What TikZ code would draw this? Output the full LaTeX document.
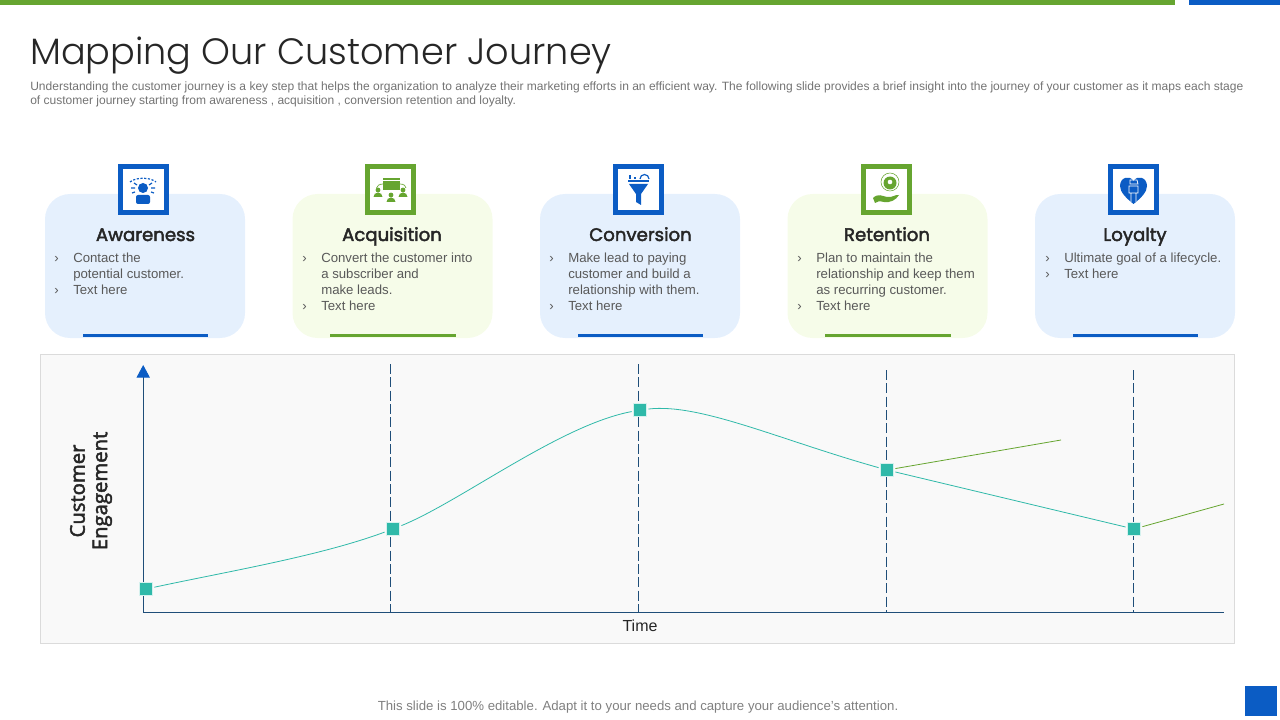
\documentclass[tikz,border=0pt]{standalone}
\usepackage{fontspec}
\setmainfont{Liberation Sans}
\newfontfamily\titlefont{Poppins Light}
\newfontfamily\headfont{Poppins}[FakeBold=2.4]
\newfontfamily\ylabelfont{Open Sans}[FakeBold=2.4]
\usepackage{xcolor}
\usetikzlibrary{arrows.meta}
\definecolor{slideblue}{HTML}{0B5CC4}
\definecolor{slidegreen}{HTML}{66A530}
\definecolor{cardblue}{HTML}{E5F0FD}
\definecolor{cardgreen}{HTML}{F6FCE9}
\definecolor{axisblue}{HTML}{1F4E79}
\definecolor{teal}{HTML}{2FB9A9}
\definecolor{panelgray}{HTML}{F9F9F9}
\tikzset{
	blockcard/.style={rounded corners=18.75pt, minimum width=150pt, minimum height=108pt, inner sep=0pt, outer sep=0pt},
	iconbox/.style={draw=#1, line width=3.75pt, fill=white, minimum size=34.5pt, inner sep=0pt, outer sep=0pt},
	footbar/.style={fill=#1, minimum width=94pt, minimum height=2.6pt, inner sep=0pt, outer sep=0pt},
	heading/.style={font=\headfont\fontsize{13.6}{17}\selectfont, text=black!85, inner sep=0pt, anchor=base},
	bodytext/.style={font=\fontsize{9.9}{12}\selectfont, text=black!65, align=left, anchor=north west, inner sep=0pt},
	tick/.style={font=\fontsize{9.9}{12}\selectfont, text=black!65, inner sep=0pt, anchor=base west},
	marker/.style={draw=white!80!teal, line width=.6pt, fill=teal, minimum size=9.6pt, inner sep=0pt, outer sep=1.5pt},
	guideline/.style={draw=axisblue, line width=.7pt, dash pattern=on 7.5pt off 2.5pt},
}
\begin{document}
\begin{tikzpicture}[x=.75pt, y=-.75pt]
	\useasboundingbox (0,0) rectangle (1280,720);
	% top bars and corner block
	\fill[slidegreen] (0,0) rectangle (1175,5);
	\fill[slideblue] (1189,0) rectangle (1280,5);
	\fill[slideblue] (1245,686) rectangle (1277,716);
	% title and intro
	\node[anchor=west, inner sep=0pt, text=black!85, font=\titlefont\fontsize{27.5}{32}\selectfont] (title) at (30,56) {Mapping Our Customer Journey};
	\node[anchor=north west, inner sep=0pt, align=left, text=black!55, font=\fontsize{9.02}{10.5}\selectfont] (intro) at (30,81.5) {Understanding the customer journey is a key step that helps the organization to analyze their marketing efforts in an efficient way. The following slide provides a brief insight into the journey of your customer as it maps each stage\\of customer journey starting from awareness , acquisition , conversion retention and loyalty.};
	% cards
	\node[blockcard, fill=cardblue] (card1) at (145,266) {};
	\node[blockcard, fill=cardgreen] (card2) at (392.5,266) {};
	\node[blockcard, fill=cardblue] (card3) at (640,266) {};
	\node[blockcard, fill=cardgreen] (card4) at (887.5,266) {};
	\node[blockcard, fill=cardblue] (card5) at (1135,266) {};
	\node[footbar=slideblue] (bar1) at (145.5,335.5) {};
	\node[footbar=slidegreen] (bar2) at (393,335.5) {};
	\node[footbar=slideblue] (bar3) at (640.5,335.5) {};
	\node[footbar=slidegreen] (bar4) at (888,335.5) {};
	\node[footbar=slideblue] (bar5) at (1135.5,335.5) {};
	\node[iconbox=slideblue] (box1) at (143.5,189.5) {};
	\node[iconbox=slidegreen] (box2) at (390.5,189.5) {};
	\node[iconbox=slideblue] (box3) at (638.5,189.5) {};
	\node[iconbox=slidegreen] (box4) at (886.5,189.5) {};
	\node[iconbox=slideblue] (box5) at (1133.5,189.5) {};
	% icon: person with rays
	\fill[slideblue] (143,188) circle (5);
	\fill[slideblue, rounded corners=1.5pt] (136,204) -- (136,195) -- (150,195) -- (150,204) -- cycle;
	\draw[slideblue, line width=.9pt, dash pattern=on 1.6pt off 1.2pt] (130,182) .. controls (136,177) and (150,177) .. (156,182);
	\draw[slideblue, line width=.9pt] (131,188) -- (135,188) (151,188) -- (155,188) (132,193) -- (135,192) (151,192) -- (154,193) (134,183) -- (137,185) (152,183) -- (149,185);
	% icon: screen with people
	\fill[slidegreen] (383,178) rectangle (400,190);
	\fill[white] (383,180.5) rectangle (400,181);
	\draw[slidegreen, line width=.5pt] (383,184) .. controls (379,184) and (377,186) .. (376.5,188) (400,184) .. controls (404,184) and (406,186) .. (406,188);
	\fill[slidegreen] (378,190) circle (2.4) (391,195) circle (2.4) (403,190) circle (2.4);
	\fill[slidegreen] (373.5,197) arc (180:360:4.5) -- cycle (386.5,202) arc (180:360:4.5) -- cycle (398.5,197) arc (180:360:4.5) -- cycle;
	% icon: funnel
	\fill[slideblue] (628,180) rectangle (649,182.5);
	\fill[slideblue] (629,184) -- (648,184) -- (641,194) -- (641,205) -- (636,202) -- (636,194) -- cycle;
	\draw[slideblue, line width=.8pt] (630,179) -- (630,175.5) (635,179) -- (635,177.5);
	\draw[slideblue, line width=.9pt] (640,179) arc (180:360:4.5);
	% icon: hand with coin
	\draw[slidegreen, line width=.4pt] (890,182) circle (9);
	\fill[slidegreen] (890,183) circle (6.5);
	\fill[white] (890,182) circle (2.3);
	\fill[slidegreen] (873,198) .. controls (878,193) and (882,196) .. (887,197) .. controls (892,198) and (896,194) .. (899,195) .. controls (896,200) and (890,203) .. (884,202) .. controls (880,201) and (877,201) .. (875,203) -- cycle;
	% icon: heart with figure
	\fill[slideblue] (1133.5,204) .. controls (1126,198) and (1120,192) .. (1120,186) .. controls (1120,177) and (1130,175) .. (1133.5,181) .. controls (1137,175) and (1147,177) .. (1147,186) .. controls (1147,192) and (1141,198) .. (1133.5,204) -- cycle;
	\draw[white, line width=.6pt] (1129,186) rectangle (1138,193) (1131,193) -- (1131,202) (1136,193) -- (1136,202) (1130,180) -- (1137,180) -- (1138,184) -- (1130,184) -- cycle;
	% headings
	\node[heading] (head1) at (145.5,241) {Awareness};
	\node[heading] (head2) at (392,241) {Acquisition};
	\node[heading] (head3) at (640.5,241) {Conversion};
	\node[heading] (head4) at (887,241) {Retention};
	\node[heading] (head5) at (1135,241) {Loyalty};
	% card texts
	\node[bodytext] (text1) at (73,252.5) {Contact the\\potential customer.\\Text here};
	\node[tick] (tick1a) at (54,262.5) {›};
	\node[tick] (tick1b) at (54,294.5) {›};
	\node[bodytext] (text2) at (321,252.5) {Convert the customer into\\a subscriber and\\make leads.\\Text here};
	\node[tick] (tick2a) at (302,262.5) {›};
	\node[tick] (tick2b) at (302,310.5) {›};
	\node[bodytext] (text3) at (568,252.5) {Make lead to paying\\customer and build a\\relationship with them.\\Text here};
	\node[tick] (tick3a) at (549,262.5) {›};
	\node[tick] (tick3b) at (549,310.5) {›};
	\node[bodytext] (text4) at (816,252.5) {Plan to maintain the\\relationship and keep them\\as recurring customer.\\Text here};
	\node[tick] (tick4a) at (797,262.5) {›};
	\node[tick] (tick4b) at (797,310.5) {›};
	\node[bodytext] (text5) at (1064,252.5) {Ultimate goal of a lifecycle.\\Text here};
	\node[tick] (tick5a) at (1045,262.5) {›};
	\node[tick] (tick5b) at (1045,278.5) {›};
	% chart panel
	\node[draw=black!14, fill=panelgray, line width=.75pt, minimum width=896pt, minimum height=216.5pt, inner sep=0pt, outer sep=0pt] (panel) at (637.5,498.7) {};
	% draw axes
	\coordinate (origin) at (143.2,612.5);
	\coordinate (ytop) at (143.2,365);
	\coordinate (xend) at (1224,612.5);
	\draw[axisblue, line width=.7pt] (origin) -- (xend);
	\draw[axisblue, line width=.7pt, -{Triangle[length=9.5pt, width=10pt, color=slideblue]}] (origin) -- (ytop);
	\node[inner sep=0pt, font=\fontsize{12}{14}\selectfont, text=black!85] (xlabel) at (640,626) {Time};
	\node[rotate=90, inner sep=0pt, align=center, text=black!85, font=\ylabelfont\fontsize{15.2}{16.8}\selectfont] (ylabel) at (91,491) {Customer\\Engagement};
	% dashed guides
	\coordinate (top2) at (390.5,364);
	\coordinate (top3) at (638.5,364);
	\coordinate (top4) at (886.5,370);
	\coordinate (top5) at (1133.5,370);
	\coordinate (low2) at (390.5,612);
	\coordinate (low3) at (638.5,612);
	\coordinate (low4) at (886.5,612);
	\coordinate (low5) at (1133.5,612);
	\draw[guideline] (top2) -- (low2);
	\draw[guideline] (top3) -- (low3);
	\draw[guideline] (top4) -- (low4);
	\draw[guideline] (top5) -- (low5);
	% stage markers
	\node[marker] (stage1) at (146,589) {};
	\node[marker] (stage2) at (393,529) {};
	\node[marker] (stage3) at (640,410) {};
	\node[marker] (stage4) at (887,470) {};
	\node[marker] (stage5) at (1134,529) {};
	% engagement curve
	\draw[teal, line width=.6pt] (stage1) .. controls (230,571) and (320,556) .. (stage2);
	\draw[teal, line width=.6pt] (stage2) .. controls (460,502) and (560,425) .. (stage3);
	\draw[teal, line width=.6pt] (stage3) .. controls (700,403) and (780,440) .. (stage4);
	\draw[teal, line width=.6pt] (stage4) -- (stage5);
	% branches
	\coordinate (branch4) at (1061,440);
	\coordinate (branch5) at (1224,504);
	\draw[slidegreen, line width=.6pt] (stage4) -- (branch4);
	\draw[slidegreen, line width=.6pt] (stage5) -- (branch5);
	% footer
	\node[inner sep=0pt, text=black!50, font=\fontsize{9.9}{11}\selectfont] (footer) at (638,707.5) {This slide is 100\% editable. Adapt it to your needs and capture your audience's attention.};
\end{tikzpicture}
\end{document}
